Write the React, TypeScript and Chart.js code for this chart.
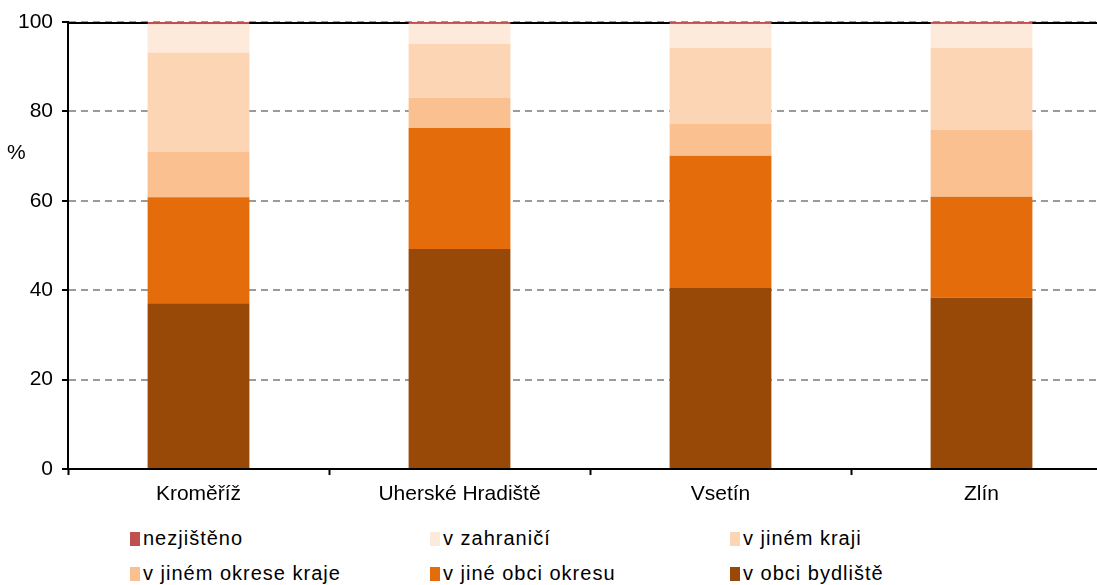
import React, { useEffect, useRef } from "react";
import { Chart, registerables } from "chart.js";

Chart.register(...registerables);

const categories = ["Kroměříž", "Uherské Hradiště", "Vsetín", "Zlín"];
const vObciBydliste = [37.1, 49.2, 40.5, 38.3];
const vJineObciOkresu = [23.7, 27.1, 29.6, 22.6];
const vJinemOkreseKraje = [10.1, 6.7, 7.1, 15.0];
const vJinemKraji = [22.3, 12.1, 17.0, 18.3];
const vZahranici = [6.3, 4.5, 5.4, 5.4];
const nezjisteno = [0.5, 0.4, 0.4, 0.4];
const yTicks = [0, 20, 40, 60, 80, 100];

const seriesNames = [
  "v obci bydliště",
  "v jiné obci okresu",
  "v jiném okrese kraje",
  "v jiném kraji",
  "v zahraničí",
  "nezjištěno",
];
const seriesColors = ["#984807", "#E46C0A", "#FAC090", "#FCD5B5", "#FDEADA", "#C0504D"];
const seriesData = [vObciBydliste, vJineObciOkresu, vJinemOkreseKraje, vJinemKraji, vZahranici, nezjisteno];

const legendOrder = [5, 4, 3, 2, 1, 0];

const FONT = "'Liberation Sans', Arial, sans-serif";

export default function App() {
  const ref = useRef<HTMLCanvasElement | null>(null);

  useEffect(() => {
    if (!ref.current) return;
    const extras = {
      id: "extras",
      beforeDatasetsDraw(chart: any) {
        const { ctx, chartArea } = chart;
        ctx.save();
        ctx.strokeStyle = "#000";
        ctx.lineWidth = 2;
        ctx.beginPath();
        ctx.moveTo(chartArea.left, chartArea.top + 1);
        ctx.lineTo(chartArea.right, chartArea.top + 1);
        ctx.stroke();
        ctx.restore();
      },
      afterDraw(chart: any) {
        const { ctx } = chart;
        ctx.save();
        ctx.fillStyle = "#000";
        ctx.font = `21px ${FONT}`;
        ctx.textBaseline = "middle";
        ctx.textAlign = "left";
        ctx.fillText("%", 7, 153);
        ctx.restore();
      },
    };
    const chart = new Chart(ref.current, {
      type: "bar",
      data: {
        labels: categories,
        datasets: seriesData.map((d, i) => ({
          label: seriesNames[i],
          data: d,
          backgroundColor: seriesColors[i],
          borderWidth: 0,
          barPercentage: 0.39,
          categoryPercentage: 1,
        })),
      },
      options: {
        responsive: false,
        animation: false,
        layout: { padding: { left: 0, top: 22, right: 8, bottom: 0 } },
        plugins: { legend: { display: false }, tooltip: { enabled: false } },
        scales: {
          x: {
            stacked: true,
            afterFit: (s: any) => {
              s.height = 46;
            },
            grid: {
              drawOnChartArea: false,
              drawTicks: true,
              tickLength: 6,
              tickColor: "#000",
              tickWidth: 2,
              offset: true,
            },
            border: { color: "#000", width: 2 },
            ticks: { color: "#000", font: { family: FONT, size: 21 }, padding: 7 },
          },
          y: {
            stacked: true,
            min: 0,
            max: 100,
            afterFit: (s: any) => {
              s.width = 68;
            },
            afterBuildTicks: (s: any) => {
              s.ticks = yTicks.map((v) => ({ value: v }));
            },
            grid: {
              color: "#9a9a9a",
              lineWidth: 2,
              drawTicks: true,
              tickLength: 6,
              tickColor: "#000",
              tickWidth: 2,
              tickBorderDash: [],
            },
            border: { color: "#000", width: 2, dash: [7, 5] },
            ticks: { color: "#000", font: { family: FONT, size: 21 }, padding: 9 },
          },
        },
      },
      plugins: [extras],
    });
    return () => chart.destroy();
  }, []);

  const legendItemStyle = (i: number): React.CSSProperties => ({
    position: "absolute",
    left: 130 + (i % 3) * 300,
    top: 527 + Math.floor(i / 3) * 35,
    display: "flex",
    alignItems: "center",
    fontFamily: FONT,
    fontSize: 20,
    letterSpacing: "1px",
    color: "#000",
    whiteSpace: "nowrap",
  });

  return (
    <div
      style={{
        position: "absolute",
        left: 0,
        top: 0,
        width: 1097,
        height: 585,
        overflow: "hidden",
        background: "#fff",
      }}
    >
      <canvas ref={ref} width={1120} height={515} style={{ display: "block", width: 1120, height: 515 }} />
      {legendOrder.map((si, i) => (
        <div key={si} style={legendItemStyle(i)}>
          <span
            style={{
              display: "inline-block",
              width: 10,
              height: 14,
              background: seriesColors[si],
              marginRight: 3,
            }}
          />
          <span>{seriesNames[si]}</span>
        </div>
      ))}
    </div>
  );
}
